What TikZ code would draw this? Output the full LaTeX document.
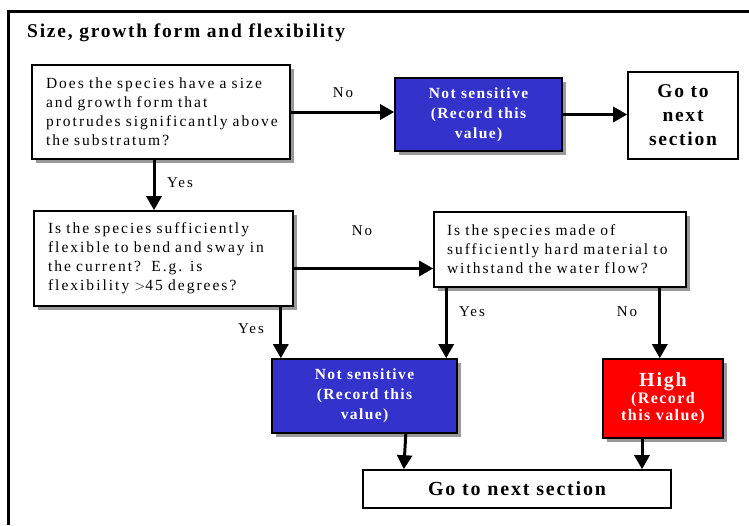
\documentclass[tikz,border=0pt]{standalone}
\usepackage{fontspec}
\setmainfont{Liberation Serif}
\newfontfamily\bodyfont[LetterSpace=13]{Liberation Serif}
\newfontfamily\boldfont[LetterSpace=9]{Liberation Serif Bold}
\usetikzlibrary{arrows.meta,shadows}
\definecolor{nsblue}{HTML}{3333CC}
\definecolor{hired}{HTML}{FF0000}
\tikzset{
  box/.style={draw=black, line width=1.6pt, fill=white, inner sep=0pt,
    drop shadow={shadow xshift=3.5pt, shadow yshift=-3.5pt, fill=gray!80, opacity=1}},
  question/.style={box, align=left, font=\bodyfont\fontsize{15.5}{19}\selectfont,
    anchor=center},
  result/.style={box, align=center, text=white,
    font=\boldfont\fontsize{15.5}{20}\selectfont},
  gonext/.style={draw=black, line width=1.6pt, fill=white, align=center,
    font=\boldfont\fontsize{19.5}{24}\selectfont},
  flow/.style={line width=3pt, -{Triangle[length=14pt,width=15pt]}},
  lbl/.style={font=\bodyfont\fontsize{15}{17}\selectfont, inner sep=0pt}
}
\begin{document}
\begin{tikzpicture}[x=1pt,y=-1pt]
\useasboundingbox (0,0) rectangle (749,525);
% outer frame (top and left edges)
\draw[line width=3pt] (8,525) -- (8,11) -- (749,11);
\node[anchor=west, font=\boldfont\fontsize{19.5}{22}\selectfont, inner sep=0pt] (title) at (27,33)
  {Size, growth form and flexibility};

% questions
\node[question, minimum width=258pt, minimum height=94pt, text width=230pt] (Q1) at (161,112)
  {Does the species have a size\\and growth form that\\protrudes significantly above\\the substratum?};
\node[question, minimum width=259pt, minimum height=95pt, text width=231pt] (Q2) at (163.5,258.5)
  {Is the species sufficiently\\flexible to bend and sway in\\the current?\ \ E.g. is\\flexibility $>$45 degrees?};
\node[question, minimum width=252pt, minimum height=75pt, text width=226pt] (Q3) at (560,249.5)
  {Is the species made of\\sufficiently hard material to\\withstand the water flow?};

% outcomes
\node[result, fill=nsblue, minimum width=167pt, minimum height=73pt] (NS1) at (478.5,114.5)
  {Not sensitive\\(Record this\\value)};
\node[result, fill=nsblue, minimum width=185pt, minimum height=74pt] (NS2) at (364.5,396)
  {Not sensitive\\(Record this\\value)};
\node[result, fill=hired, minimum width=120pt, minimum height=79pt] (HI) at (663,398.5)
  {{\fontsize{20}{24}\selectfont High}\\[-3pt]{\fontsize{16}{19}\selectfont(Record}\\[-3pt]{\fontsize{16}{19}\selectfont this value)}};
\node[gonext, minimum width=110pt, minimum height=87pt] (GO1) at (683,115.5)
  {Go to\\next\\section};
\node[gonext, minimum width=308pt, minimum height=38pt, font=\boldfont\fontsize{20}{24}\selectfont] (GO2) at (517,489)
  {Go to next section};

% connectors
\draw[flow] (Q1.east) -- (Q1.east -| NS1.west);
\draw[flow] (NS1.east) -- (NS1.east -| GO1.west);
\draw[flow] ([xshift=-7pt]Q1.south) -- ([xshift=-7pt]Q1.south |- Q2.north);
\draw[flow] ([yshift=-10pt]Q2.east) -- ([yshift=-10pt]Q2.east -| Q3.west);
\draw[flow] ([xshift=-13pt]Q2.south east) -- ([xshift=-13pt]Q2.south east |- NS2.north);
\draw[flow] ([xshift=13pt]Q3.south west) -- ([xshift=13pt]Q3.south west |- NS2.north);
\draw[flow] ([xshift=-27pt]Q3.south east) -- ([xshift=-27pt]Q3.south east |- HI.north);
\draw[flow] ([xshift=-52pt]NS2.south east) -- ([xshift=-54pt]NS2.south east |- GO2.north);
\draw[flow] ([xshift=-21pt]HI.south) -- ([xshift=-21pt]HI.south |- GO2.north);

% branch labels
\node[lbl] (l1) at (343,93) {No};
\node[lbl] (l2) at (180,183) {Yes};
\node[lbl] (l3) at (362,231) {No};
\node[lbl] (l4) at (251,329) {Yes};
\node[lbl] (l5) at (472,312) {Yes};
\node[lbl] (l6) at (627,312) {No};
\end{tikzpicture}
\end{document}
